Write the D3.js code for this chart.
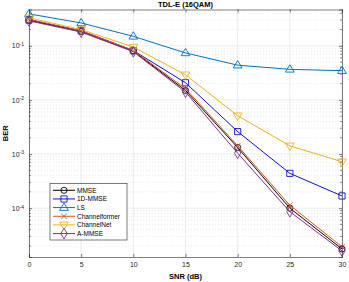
<!DOCTYPE html>
<html><head><meta charset="utf-8">
<script src="https://cdn.jsdelivr.net/npm/d3@7"></script>
<style>body{margin:0;background:#fff}svg{display:block;font-family:"Liberation Sans",Arial,sans-serif}</style>
</head><body><svg id="c" width="349" height="282"></svg>
<script>
const snr = [0, 5, 10, 15, 20, 25, 30];
const names = ["MMSE", "1D-MMSE", "LS", "Channelformer", "ChannelNet", "A-MMSE"];
const mmse = [0.30, 0.185, 0.080, 0.0150, 0.00132, 1.0e-4, 1.76e-5];
const mmse1d = [0.30, 0.19, 0.082, 0.0208, 0.00260, 4.4e-4, 1.68e-4];
const ls = [0.39, 0.265, 0.150, 0.074, 0.044, 0.0368, 0.0348];
const channelformer = [0.31, 0.19, 0.082, 0.0162, 0.00142, 1.13e-4, 1.93e-5];
const channelnet = [0.33, 0.20, 0.095, 0.0292, 0.0051, 1.42e-3, 7.2e-4];
const ammse = [0.29, 0.18, 0.078, 0.0140, 0.00104, 8.6e-5, 1.62e-5];
const xTicks = [0, 5, 10, 15, 20, 25, 30];
const yTicks = [1e-4, 1e-3, 1e-2, 1e-1];
const series = [mmse, mmse1d, ls, channelformer, channelnet, ammse];
const colors = ["#000000", "#1010C8", "#0072BD", "#D95319", "#EDB120", "#7E2F8E"];
const markers = ["circle", "square", "triUp", "cross", "triDown", "diamond"];

const svg = d3.select("#c");
const L = 29, R = 342, T = 9.5, B = 257;
const x = d3.scaleLinear().domain([0, 30]).range([L, R]);
const y = d3.scaleLog().domain([1.25e-5, 0.47]).range([B, T]);
const tc = "#262626";

// minor grid
const minors = [];
for (let e = -5; e <= 0; e++) for (let m = 2; m <= 9; m++) { const v = m * Math.pow(10, e); if (v > 1.25e-5 && v < 0.47) minors.push(v); }
svg.append("g").selectAll("line").data(minors).join("line")
  .attr("x1", L).attr("x2", R).attr("y1", d => y(d)).attr("y2", d => y(d))
  .attr("stroke", "#d8d8d8").attr("stroke-width", 0.6).attr("stroke-dasharray", "1,2");
// major grid
svg.append("g").selectAll("line").data(yTicks).join("line")
  .attr("x1", L).attr("x2", R).attr("y1", d => y(d)).attr("y2", d => y(d))
  .attr("stroke", "#e3e3e3").attr("stroke-width", 0.7);
svg.append("g").selectAll("line").data(xTicks).join("line")
  .attr("y1", T).attr("y2", B).attr("x1", d => x(d)).attr("x2", d => x(d))
  .attr("stroke", "#e3e3e3").attr("stroke-width", 0.7);

// axes
const xa = svg.append("g").attr("transform", `translate(0,${B})`)
  .call(d3.axisBottom(x).tickValues(xTicks).tickSize(-3).tickPadding(5.5).tickFormat(d3.format("d")));
const xt = svg.append("g").attr("transform", `translate(0,${T})`)
  .call(d3.axisTop(x).tickValues(xTicks).tickSize(-3).tickFormat(""));
const ya = svg.append("g").attr("transform", `translate(${L},0)`)
  .call(d3.axisLeft(y).tickValues(yTicks).tickSize(-3).tickPadding(5).tickFormat(""));
const yr = svg.append("g").attr("transform", `translate(${R},0)`)
  .call(d3.axisRight(y).tickValues(yTicks).tickSize(-3).tickFormat(""));
[xa, xt, ya, yr].forEach(g => {
  g.select(".domain").attr("stroke", tc).attr("stroke-width", 0.6);
  g.selectAll(".tick line").attr("stroke", tc).attr("stroke-width", 0.6);
  g.selectAll("text").attr("fill", tc).attr("font-size", 7).attr("font-family", "Liberation Sans, Arial, sans-serif");
});
// minor y ticks
[[L, 2], [R, -2]].forEach(([xx, d]) => {
  svg.append("g").selectAll("line").data(minors).join("line")
    .attr("x1", xx).attr("x2", xx + d).attr("y1", v => y(v)).attr("y2", v => y(v))
    .attr("stroke", tc).attr("stroke-width", 0.5);
});
// y tick labels with superscripts
ya.selectAll(".tick").each(function(d) {
  const t = d3.select(this).append("text").attr("x", -5).attr("dy", "0.3em")
    .attr("text-anchor", "end").attr("fill", tc).attr("font-size", 7);
  t.append("tspan").text("10");
  t.append("tspan").attr("dy", "-0.45em").attr("font-size", 5).text(String(Math.round(Math.log10(d))));
});

// lines & markers
const sym = {
  circle: d3.symbol().type(d3.symbolCircle).size(30),
  square: d3.symbol().type(d3.symbolSquare).size(38),
  diamond: d3.symbol().type(d3.symbolDiamond).size(34)
};
function drawMarker(g, m, cx, cy, col) {
  if (m === "triUp" || m === "triDown") {
    const s = m === "triUp" ? 1 : -1, r = 4.6;
    g.append("path").attr("d", `M${cx},${cy - s * r}L${cx + r * 0.95},${cy + s * r * 0.6}L${cx - r * 0.95},${cy + s * r * 0.6}Z`)
      .attr("fill", "none").attr("stroke", col).attr("stroke-width", 0.9);
  } else if (m === "cross") {
    const r = 2.8;
    g.append("path").attr("d", `M${cx - r},${cy - r}L${cx + r},${cy + r}M${cx - r},${cy + r}L${cx + r},${cy - r}`)
      .attr("stroke", col).attr("stroke-width", 0.9);
  } else {
    g.append("path").attr("d", sym[m]()).attr("transform", `translate(${cx},${cy})`)
      .attr("fill", "none").attr("stroke", col).attr("stroke-width", 0.9);
  }
}
const line = d3.line().x((d, i) => x(snr[i])).y(d => y(d));
series.forEach((s, k) => {
  const g = svg.append("g");
  g.append("path").attr("d", line(s)).attr("fill", "none").attr("stroke", colors[k]).attr("stroke-width", 1);
  s.forEach((v, i) => drawMarker(g, markers[k], x(snr[i]), y(v), colors[k]));
});

// title & labels
svg.append("text").attr("x", (L + R) / 2).attr("y", 7).attr("text-anchor", "middle")
  .attr("font-size", 7.5).attr("font-weight", "bold").attr("fill", "#000").text("TDL-E (16QAM)");
svg.append("text").attr("x", (L + R) / 2).attr("y", 279).attr("text-anchor", "middle")
  .attr("font-size", 7.5).attr("font-weight", "bold").attr("fill", "#000").text("SNR (dB)");
svg.append("text").attr("transform", `translate(8,${(T + B) / 2}) rotate(-90)`).attr("text-anchor", "middle")
  .attr("font-size", 7.5).attr("font-weight", "bold").attr("fill", "#000").text("BER");

// legend
const lg = svg.append("g");
const lx = 50, ly = 183.5, lw = 77, lh = 56.5;
lg.append("rect").attr("x", lx).attr("y", ly).attr("width", lw).attr("height", lh)
  .attr("fill", "#fff").attr("stroke", tc).attr("stroke-width", 0.6);
names.forEach((n, k) => {
  const yy = ly + 6.8 + k * 8.65;
  lg.append("line").attr("x1", lx + 3).attr("x2", lx + 25).attr("y1", yy).attr("y2", yy)
    .attr("stroke", colors[k]).attr("stroke-width", 1);
  drawMarker(lg, markers[k], lx + 14, yy, colors[k]);
  lg.append("text").attr("x", lx + 27).attr("y", yy).attr("dy", "0.35em")
    .attr("font-size", 6.5).attr("fill", "#000").text(n);
});
</script></body></html>
